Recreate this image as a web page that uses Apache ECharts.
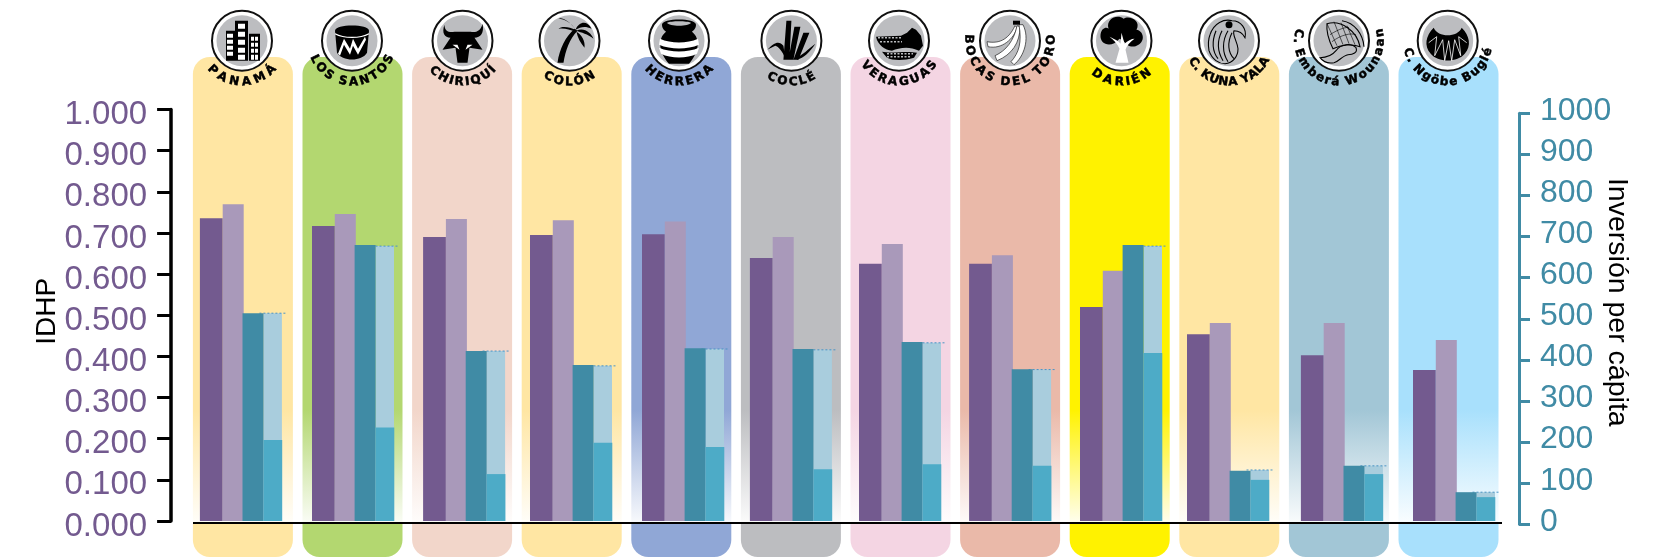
<!DOCTYPE html>
<html><head><meta charset="utf-8">
<style>html,body{margin:0;padding:0;background:#fff}#c{width:1665px;height:557px}</style>
<script src="https://cdn.jsdelivr.net/npm/echarts@6/dist/echarts.min.js"></script>
</head><body><div id="c"></div>
<script>
const provinces = ['PANAMÁ','LOS SANTOS','CHIRIQUÍ','COLÓN','HERRERA','COCLÉ','VERAGUAS','BOCAS DEL TORO','DARIÉN','C. KUNA YALA','C. Emberá Wounaan','C. Ngöbe Buglé'];
const idhpFirst  = [0.736,0.717,0.690,0.695,0.697,0.639,0.625,0.625,0.520,0.454,0.403,0.367];
const idhpSecond = [0.770,0.746,0.734,0.731,0.728,0.690,0.673,0.646,0.608,0.481,0.481,0.440];
const investFirst  = [505,671,413,379,420,418,435,369,671,122,134,70];
const investSecond = [505,668,413,377,418,416,433,368,668,124,134,70];
const investInner  = [197,227,114,190,180,126,138,134,408,100,114,58];
const idhpTickLabels = ['0.000','0.100','0.200','0.300','0.400','0.500','0.600','0.700','0.800','0.900','1.000'];
const panelColors = ['#FFE6A3','#B3D770','#F2D6CA','#FFE6A3','#90A7D6','#BCBDC0','#F4D5E3','#EAB9A9','#FFF200','#FFE6A3','#A2C6D6','#A8E0FC'];
const labelSpans = [106,140,100,75,104,70,120,200,90,130,215,160];
const barNudge = [-2,0.5,2,-0.7,1.7,0,-0.5,0,1.3,-1.3,3,5.5];

const chart = echarts.init(document.getElementById('c'), null, {renderer:'canvas'});

function panelItem(params, api){
  const i = api.value(0), x = api.coord([i,0])[0];
  const t=57,h=500,c=panelColors[i];
  return {type:'rect',shape:{x:x-50,y:t,width:100,height:h,r:17},style:{fill:new echarts.graphic.LinearGradient(0,0,0,1,[
    {offset:0,color:c},{offset:0.706,color:c},
    {offset:0.93,color:echarts.color.modifyAlpha(c,0.07)},
    {offset:0.932,color:c},{offset:1,color:c}])}};
}
function barItem(x0,x1,color,dotted){
  return function(params, api){
    const i=api.value(0), p=api.coord([i,api.value(1)]), b=api.coord([i,0]);
    const l=p[0]-41+barNudge[i]+x0, r=p[0]-41+barNudge[i]+x1;
    const rect={type:'rect',shape:{x:l,y:p[1],width:r-l,height:b[1]-p[1]},style:{fill:color}};
    if(!dotted) return rect;
    return {type:'group',children:[rect,{type:'line',shape:{x1:l-4,y1:p[1],x2:r+4,y2:p[1]},style:{stroke:'#4A93C4',lineWidth:1,lineDash:[2,2]}}]};
  };
}
const pairs=a=>a.map((v,i)=>[i,v]);
const R=(x,y,w,h)=>`M${x} ${y}h${w}v${h}h${-w}z`;
const K='#000',W='#fff',G='#BCBDC0';
const glyphs=[
 [[R(-16,-10,10,30)+R(-7,-20,13,40)+R(7,-7,11,27),K],
  [R(-15,-7,6,4)+R(-15,-1,6,4)+R(-15,5,6,4)+R(-15,11,6,4)+R(-4,-17,7,5)+R(-4,-9,7,5)+R(-4,-1,7,5)+R(-4,7,7,5)+R(-4,14,7,5)+R(9,-4,3,4)+R(13,-4,3,4)+R(9,2,3,4)+R(13,2,3,4)+R(9,8,3,4)+R(13,8,3,4)+R(9,14,3,5)+R(13,14,3,5),W]],
 [['M-17-10C-17-17 17-17 17-10L15 12C10 21-10 21-15 12Z',K],
  ['M-14 13L-8-2L-2 8L1-2L6 8L13-4L14-1L6 14L1 5L-2 14L-8 4L-12 15Z',W],
  ['M-17-7C-8-2 8-2 17-7','S']],
 [['M-18-16C-18-9-13-8-8-9H8C13-8 18-9 20-17C22-8 18-3 12-3L20 9L7 7L5 22H-5L-7 7L-20 9L-12-3C-18-3-21-8-18-16Z',K],
  ['M-10 4L-3 9L-5 4ZM10 4L3 9L5 4Z',W]],
 [['M-12 22C-10 8-4-4 5-12L8-10C0-2-4 10-6 22Z',K],
  ['M6-11C0-20-8-24-11-22C-5-22 2-18 6-11ZM6-11C0-14-8-15-11-12C-5-13 0-11 6-9ZM6-11C10-20 18-20 22-12C16-15 11-14 6-11ZM7-10C14-14 22-8 24-2C18-7 12-8 7-10ZM7-9C12-6 16 0 15 7C11 2 8-3 7-9Z',K]],
 [['M-17-16C-17-23 17-23 17-16C17-12 14-10 13-9C22-2 20 12 10 23L-10 23C-20 12-22-2-13-9C-14-10-17-12-17-16Z',K],
  ['M-12-18C-10-14 10-14 12-18C8-20-8-20-12-18Z',G],
  ['M-19-2C-8 3 8 3 19-2L20 4C8 9-8 9-20 4ZM-20 7C-8 12 8 12 20 7L18 13C8 18-8 18-18 13Z',W]],
 [['M-5-20H0L-2 19H-8ZM3-14H9L2 19H-3ZM12-8H18L7 19H2Z',K],
  ['M-24 9C-17 1-12 0-8 5L-6 18C-9 10-13 6-16 5C-18 6-21 7-24 9ZM24 3C18 12 12 17 6 19L4 17C11 15 17 8 24 3Z',K]],
 [['M-23-4L2-5L8-8L13-13L17-11L22-5L24 5L20 10C10 5 0 7-7 10C-14 9-21 5-23-4Z',K],
  ['M-17 11C-8 13 8 10 18 12L15 17C5 20-6 20-12 17Z',K],
  ['M-21-3H2M-19 1H3M-12 13H14M-12 16H12','D']],
 [['M-23 1C-12 3-2 0 5-15L7-13C4-2-8 9-22 6Z','B'],
  ['M-15 15C-4 10 4 0 7-15L10-14C10 2 2 14-13 20Z','B'],
  ['M1 21C9 12 12 2 9-16L13-16C20-2 14 16 4 24Z','B'],
  ['M3-20H10V-16H3Z',K]],
 [['M-2-2C-10 8-22 4-21-6C-20-13-15-14-13-12C-16-22-4-27 2-22C8-26 20-20 15-11C22-10 24 0 17 4C11 8 5 5 2 0Z',K],
  ['M-6 22L-2 8C-4 3-8-1-12-4C-6-1-3 0-1 3L0-8L3 3C6 0 10-2 13-2C8 2 5 5 4 9L7 22Z',W]],
 [['M-19-6C-15-18-5-22 3-20C12-20 18-12 16-3C14-7 10-10 5-10C3-6 8 0 9 8C9 16 4 22-4 23C-10 23-17 19-20 10C-21 4-21-1-19-6Z','L'],
  ['M-13-10C-17 0-17 10-11 18M-7-10C-12 0-12 10-6 20M-1-10C-7 0-7 12-1 21M3-8C-2 2-1 12 5 18','L'],
  ['M-3.5-16a3.5 3.5 0 1 0 7 0a3.5 3.5 0 1 0-7 0Z',K]],
 [['M-12-17C2-21 18-10 21 6C14 3 2 4-6 8C-10 0-13-8-12-17Z','L'],
  ['M-9-6C0-12 8-14 10-13M-7 1C2-6 12-8 17-6M-12-17L-2 5M-5-19L4 4M2-18L10 3M8-15L16 4','T'],
  ['M3-20C16-18 24-6 25 6','L'],
  ['M-19 17C-12 17-7 15-3 10C2 3 12 2 17 7C19 12 14 14 9 14C3 15 0 21-5 22C-11 23-16 21-19 17Z','L']],
 [['M-14-13C-10-3 10-3 14-13C22-5 24 5 17 13C10 22-10 22-17 13C-24 5-22-5-14-13Z',K],
  ['M-19 2L-11-4L-13 15L-5-1L-3 20L1 0L4 20L7-1L13 15L11-4L19 2','WL']]
];
function glyphEl(g){
  const [d,f]=g;
  if(f==='S') return {type:'path',shape:{pathData:d},style:{fill:'none',stroke:W,lineWidth:1.2}};
  if(f==='L') return {type:'path',shape:{pathData:d},style:{fill:'none',stroke:K,lineWidth:1.1}};
  if(f==='T') return {type:'path',shape:{pathData:d},style:{fill:'none',stroke:K,lineWidth:0.6}};
  if(f==='WL') return {type:'path',shape:{pathData:d},style:{fill:'none',stroke:W,lineWidth:0.8}};
  if(f==='B') return {type:'path',shape:{pathData:d},style:{fill:W,stroke:'#222',lineWidth:0.7}};
  if(f==='D') return {type:'path',shape:{pathData:d},style:{fill:'none',stroke:G,lineWidth:1.6,lineDash:[2,1.5]}};
  return {type:'path',shape:{pathData:d},style:{fill:f}};
}
const mctx=document.createElement('canvas').getContext('2d');
const FONT='bold 12px "DejaVu Sans"';
mctx.font=FONT;
function curved(text,span){
  const ws=[...text].map(c=>mctx.measureText(c).width+0.3);
  const tot=ws.reduce((a,b)=>a+b,0);
  let acc=0; const out=[];
  [...text].forEach((c,i)=>{
    const mid=acc+ws[i]/2; acc+=ws[i];
    const th=((mid/tot-0.5)*span)*Math.PI/180, r=41.5;
    out.push({type:'text',x:r*Math.sin(th),y:r*Math.cos(th),rotation:th,
      style:{text:c,font:FONT,fill:'#000',stroke:'#000',lineWidth:0.5,align:'center',verticalAlign:'middle'}});
  });
  return out;
}
const iconCenters=[242,352,462.5,569.5,679,791.4,899,1010,1121.5,1229,1339,1447.7];
function iconItem(params, api){
  const i=api.value(0);
  return {type:'group',x:iconCenters[i],y:40.7,children:[
    {type:'circle',shape:{cx:0,cy:0,r:30},style:{fill:W,stroke:'#111',lineWidth:2}},
    {type:'circle',shape:{cx:0,cy:0,r:25.5},style:{fill:G}},
    ...glyphs[i].map(glyphEl),
    ...curved(provinces[i],labelSpans[i])
  ]};
}

chart.setOption({
  animation:false,
  backgroundColor:'#fff',
  grid:[
    {left:188.1,width:1315.2,top:109.5,height:411.5},
    {left:188.1,right:146,top:113.3,height:411}
  ],
  xAxis:[
    {type:'category',gridIndex:0,data:provinces,show:false},
    {type:'value',gridIndex:1,min:0,max:1,show:false}
  ],
  yAxis:[
    {type:'value',gridIndex:0,min:0,max:1,interval:0.1,offset:17,position:'left',
     name:'IDHP',nameLocation:'middle',nameGap:110,nameRotate:90,nameMoveOverlap:false,
     nameTextStyle:{color:'#000',fontSize:28,fontFamily:'Liberation Sans',padding:[0,0,0,8]},
     axisLine:{show:true,onZero:false,lineStyle:{color:'#000',width:3.5}},
     axisTick:{show:true,length:14,lineStyle:{color:'#000',width:3}},
     splitLine:{show:false},
     axisLabel:{margin:24,color:'#735A8F',fontSize:33,fontFamily:'Liberation Sans',verticalAlign:'top',lineHeight:11,
       formatter:(v,i)=>idhpTickLabels[i]}},
    {type:'value',gridIndex:0,min:0,max:1000,show:false},
    {type:'value',gridIndex:1,min:0,max:1000,interval:100,position:'right',
     name:'Inversión per cápita',nameLocation:'middle',nameGap:83,nameRotate:-90,nameMoveOverlap:false,
     nameTextStyle:{color:'#000',fontSize:28.5,fontFamily:'Liberation Sans',padding:[0,33,0,0]},
     axisLine:{show:true,onZero:false,lineStyle:{color:'#408BA5',width:3}},
     axisTick:{show:true,length:11,lineStyle:{color:'#408BA5',width:3}},
     splitLine:{show:false},
     axisLabel:{margin:21,color:'#408BA5',fontSize:32,fontFamily:'Liberation Sans',verticalAlign:'bottom',lineHeight:5,formatter:v=>String(v)}}
  ],
  graphic:[{type:'line',z:25,shape:{x1:193,y1:523,x2:1502,y2:523},style:{stroke:'#000',lineWidth:2}}],
  series:[
    {type:'custom',name:'panels',z:1,data:pairs(idhpFirst),renderItem:panelItem,clip:false,silent:true},
    {type:'custom',name:'icons',z:30,data:pairs(idhpFirst),renderItem:iconItem,clip:false,silent:true},
    {type:'custom',name:'IDHP 1',z:3,yAxisIndex:0,data:pairs(idhpFirst),renderItem:barItem(0,22.8,'#735A8F')},
    {type:'custom',name:'IDHP 2',z:3,yAxisIndex:0,data:pairs(idhpSecond),renderItem:barItem(22.8,43.8,'#A999BA')},
    {type:'custom',name:'Inversión 2',z:4,yAxisIndex:1,data:pairs(investSecond),renderItem:barItem(63.5,82,'#A9CDDD',true)},
    {type:'custom',name:'Inversión 1',z:5,yAxisIndex:1,data:pairs(investFirst),renderItem:barItem(42.6,63.6,'#408BA5')},
    {type:'custom',name:'Inversión interior',z:5,yAxisIndex:1,data:pairs(investInner),renderItem:barItem(63.5,82.3,'#4DABC7')}
  ]
});
</script></body></html>
